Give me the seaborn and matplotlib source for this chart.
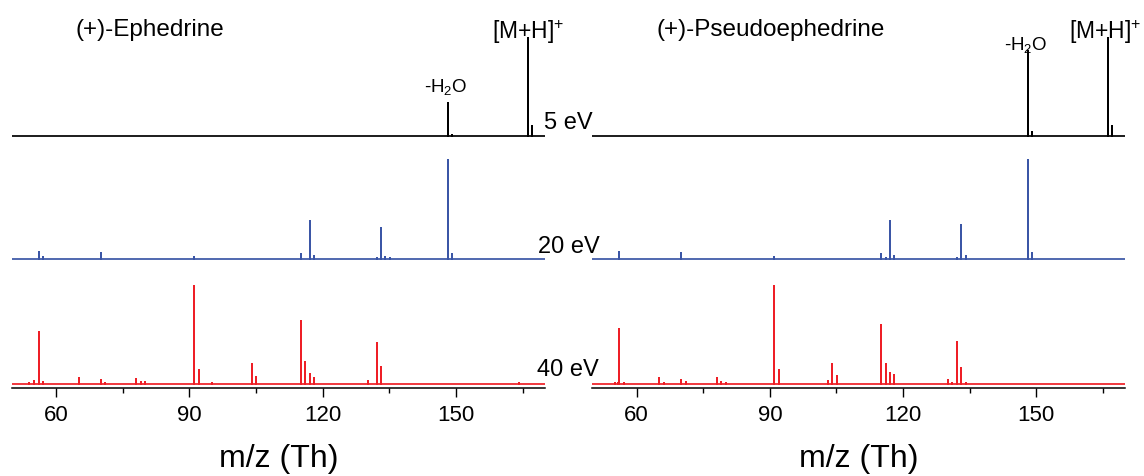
import numpy as np
import pandas as pd
import matplotlib
matplotlib.use("Agg")
import matplotlib.pyplot as plt
import seaborn as sns
from matplotlib.ticker import FixedLocator

# ---------------- data (m/z, relative intensity %) ----------------
energies = ["5 eV", "20 eV", "40 eV"]

eph_5_mz = [52, 55, 56.05, 58, 63, 65, 70, 77, 79, 86, 91.05, 95, 103, 105, 115.05, 117.07, 119, 124, 131, 133.09,
            147, 148.11, 149.1, 163.2, 166.12, 167.1]
eph_5_int = [0.4, 0.5, 0.6, 0.4, 0.3, 0.4, 0.5, 0.3, 0.4, 0.3, 0.5, 0.3, 0.3, 0.3, 0.4, 0.5, 0.3, 0.3, 0.3, 0.4,
             0.4, 34.5, 2.0, 1.0, 100, 10.5]

eph_20_mz = [56.05, 57.06, 70.07, 91.05, 115.05, 117.07, 118.07, 132.08, 133.09, 134.1, 135.1, 148.11, 149.1]
eph_20_int = [7.5, 2.4, 5.9, 1.7, 4.8, 39.0, 3.4, 1.3, 31.0, 2.4, 1.0, 100, 5.0]

eph_40_mz = [52.4, 54, 55.05, 56.05, 57.06, 65.04, 66, 70.07, 71, 77.9, 79.05, 80, 91.05, 92.06, 95, 98.6,
             104.06, 105.07, 115.05, 116.06, 117.07, 118.07, 130.07, 132.08, 133.09, 164.1]
eph_40_int = [0.8, 1.2, 3.5, 53.2, 2.7, 7.0, 1.0, 4.7, 2.0, 5.7, 2.7, 2.7, 100, 14.7, 1.7, 1.0,
              20.3, 7.7, 64.0, 22.7, 10.3, 6.3, 3.7, 42.0, 18.0, 1.7]

pse_5_mz = [51, 54, 56.05, 58, 61, 65, 68, 72, 77, 84, 91.05, 99, 105, 110, 115.05, 117.07, 122, 129, 133.09,
            148.11, 149.1, 163.2, 166.12, 167.1]
pse_5_int = [0.4, 0.5, 0.5, 0.4, 0.3, 0.4, 0.4, 0.3, 0.4, 0.3, 0.5, 0.3, 0.4, 0.3, 0.4, 0.5, 0.3, 0.3, 0.4,
             87.0, 4.5, 0.8, 100, 11.0]

pse_20_mz = [56.05, 70.07, 91.05, 115.05, 116.06, 117.07, 118.07, 132.08, 133.09, 134.1, 148.11, 149.1]
pse_20_int = [7.5, 6.2, 2.0, 4.8, 1.0, 38.3, 3.4, 1.3, 34.6, 3.1, 100, 5.9]

pse_40_mz = [55.05, 55.7, 56.05, 57.06, 65.04, 66.2, 67, 70.07, 71.1, 78.05, 79.05, 80.1, 91.05, 92.06, 98.9,
             103.05, 104.06, 105.07, 115.05, 116.06, 117.07, 118.07, 130.07, 131.07, 132.08, 133.09, 134.1,
             148.2, 163.4]
pse_40_int = [1.7, 1.7, 56.3, 1.3, 7.0, 1.3, 1.0, 4.7, 2.7, 7.0, 2.7, 1.7, 100, 14.7, 0.7,
              3.3, 21.3, 9.0, 60.7, 21.3, 11.7, 9.7, 4.3, 1.7, 43.0, 17.0, 2.0,
              1.0, 1.0]

compounds = ["(+)-Ephedrine", "(+)-Pseudoephedrine"]
tick_values = [60, 90, 120, 150]
minor_values = [75, 105, 135, 165]
x_label = "m/z (Th)"

# ---------------- styling / layout ----------------
sns.set_style("white")
plt.rcParams["font.family"] = ["Liberation Sans", "DejaVu Sans"]
plt.rcParams["mathtext.fontset"] = "custom"
plt.rcParams["mathtext.rm"] = "Liberation Sans"
plt.rcParams["mathtext.it"] = "Liberation Sans:italic"
plt.rcParams["text.color"] = "black"
plt.rcParams["axes.labelcolor"] = "black"
plt.rcParams["xtick.color"] = "black"
plt.rcParams["xtick.labelcolor"] = "black"

XMIN, XMAX = 50, 170
offsets = {"5 eV": 248.0, "20 eV": 125.5, "40 eV": 0.0}
scale = 0.985
palette = {"5 eV": "#000000", "20 eV": "#3B56A6", "40 eV": "#EE1F26"}


def stick_frame(mz, inten, energy):
    xs, ys = [XMIN], [0.0]
    for m, v in sorted(zip(mz, inten)):
        xs += [m, m, m]
        ys += [0.0, v, 0.0]
    xs.append(XMAX)
    ys.append(0.0)
    off = offsets[energy]
    return pd.DataFrame({"mz": xs, "y": [off + scale * y for y in ys], "energy": energy})


panels = [
    [(eph_5_mz, eph_5_int), (eph_20_mz, eph_20_int), (eph_40_mz, eph_40_int)],
    [(pse_5_mz, pse_5_int), (pse_20_mz, pse_20_int), (pse_40_mz, pse_40_int)],
]

fig = plt.figure(figsize=(11.44, 4.77), dpi=100)
ax_pos = [[0.01023, 0.1845, 0.4662, 0.7736], [0.5177, 0.1845, 0.4657, 0.7736]]

axes = []
for pi, spectra in enumerate(panels):
    ax = fig.add_axes(ax_pos[pi])
    df = pd.concat([stick_frame(mz, it, e) for (mz, it), e in zip(spectra, energies)], ignore_index=True)
    sns.lineplot(data=df, x="mz", y="y", hue="energy", palette=palette, sort=False, estimator=None,
                 legend=False, linewidth=1.25, ax=ax)
    ax.set_xlim(XMIN, XMAX)
    ax.set_ylim(-3.5, 365.5)
    for s in ["top", "right", "left"]:
        ax.spines[s].set_visible(False)
    ax.spines["bottom"].set_color("black")
    ax.spines["bottom"].set_linewidth(1.1)
    ax.set_yticks([])
    ax.set_ylabel("")
    ax.xaxis.set_major_locator(FixedLocator(tick_values))
    ax.xaxis.set_minor_locator(FixedLocator(minor_values))
    ax.tick_params(axis="x", which="major", direction="out", length=6.5, width=1.0, labelsize=16,
                   pad=5, color="black", labelcolor="black", bottom=True)
    ax.tick_params(axis="x", which="minor", direction="out", length=3.6, width=1.0, color="black", bottom=True)
    ax.set_xlabel(x_label, fontsize=23, labelpad=13, color="black")
    ax.patch.set_alpha(0)
    axes.append(ax)

axL, axR = axes

# titles
axL.text(81.1, 355.8, compounds[0], fontsize=17.5, ha="center", va="center", clip_on=False)
axR.text(90.3, 355.8, compounds[1], fontsize=17.5, ha="center", va="center", clip_on=False)

# peak annotations
axL.text(166.2, 346.2, r"[M+H]$^{+}$", fontsize=16.5, ha="center", va="baseline", clip_on=False)
axL.text(147.7, 293.8, r"-H$_2$O", fontsize=13.5, ha="center", va="baseline", clip_on=False)
axR.text(165.6, 346.2, r"[M+H]$^{+}$", fontsize=16.5, ha="center", va="baseline", clip_on=False)
axR.text(147.6, 335.5, r"-H$_2$O", fontsize=13.5, ha="center", va="baseline", clip_on=False)

# energy labels
axL.text(169.8, 262.2, energies[0], fontsize=17, ha="left", va="center", clip_on=False)
axL.text(168.4, 138.8, energies[1], fontsize=17, ha="left", va="center", clip_on=False)
axL.text(168.2, 15.5, energies[2], fontsize=17, ha="left", va="center", clip_on=False)

fig.savefig("out.png", dpi=100)
